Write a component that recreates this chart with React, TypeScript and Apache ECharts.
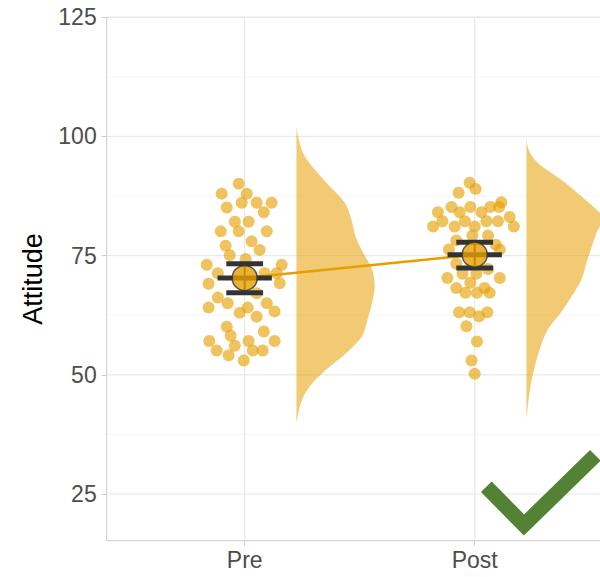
import React, { useEffect, useRef } from "react";
import * as echarts from "echarts";

// ---------- data ----------
const categories = ["Pre", "Post"];
const yTickValues = [25, 50, 75, 100, 125];
const yMinorValues = [37.5, 62.5, 87.5, 112.5];

const preScores = [90.1, 88.0, 88.0, 85.1, 86.1, 86.1, 86.1, 84.1, 82.1, 82.1, 80.1, 80.1, 80.1, 77.1, 78.0, 75.1, 76.2, 74.3, 73.1, 73.1, 71.3, 71.3, 71.3, 69.1, 69.2, 67.1, 66.2, 65.0, 65.0, 64.1, 64.1, 63.0, 63.3, 62.2, 60.1, 59.1, 58.2, 57.1, 57.1, 57.1, 56.1, 55.1, 55.1, 55.1, 54.1, 53.0];
const preJitter = [-0.026, -0.1, 0.009, -0.078, -0.013, 0.052, 0.117, 0.083, -0.043, 0.017, -0.104, -0.026, 0.096, -0.083, 0.03, -0.065, 0.065, 0.004, -0.165, 0.161, -0.117, 0.087, 0.139, -0.157, 0.152, 0.052, -0.117, -0.074, 0.096, -0.157, 0.013, -0.022, 0.13, 0.052, -0.078, 0.083, -0.061, -0.154, 0.017, 0.13, -0.043, -0.122, 0.035, 0.078, -0.07, -0.004];

const postScores = [90.3, 89.0, 88.2, 84.1, 85.2, 84.1, 85.2, 84.1, 85.2, 85.2, 86.2, 83.1, 81.1, 81.1, 82.2, 81.1, 82.2, 81.1, 82.2, 82.2, 79.2, 79.2, 78.2, 77.3, 76.3, 76.3, 73.3, 72.2, 70.3, 71.2, 71.2, 70.3, 69.3, 68.2, 67.2, 67.2, 68.2, 67.2, 63.1, 63.1, 62.3, 63.1, 60.2, 57.0, 53.0, 50.2];
const postJitter = [-0.022, 0.004, -0.07, -0.16, -0.101, -0.065, -0.019, 0.029, 0.068, 0.106, 0.116, 0.152, 0.17, -0.181, -0.14, -0.087, -0.043, 0.0, 0.051, 0.101, -0.01, 0.058, -0.08, 0.091, -0.112, 0.109, -0.08, 0.058, -0.119, -0.053, 0.007, 0.109, -0.019, -0.08, -0.04, 0.01, 0.043, 0.065, -0.068, -0.022, 0.019, 0.055, -0.036, 0.01, -0.014, 0.0];

const means = [70.3, 75.2];
const ciLow = [67.2, 72.4];
const ciHigh = [73.3, 77.8];

const preViolinY = [102.1, 100.0, 96.5, 93.0, 89.5, 86.1, 82.6, 79.0, 75.6, 72.1, 68.6, 65.1, 61.6, 58.1, 54.6, 51.1, 47.6, 44.1, 40.6, 40.0];
const preViolinW = [0, 0.007, 0.029, 0.08, 0.145, 0.21, 0.239, 0.257, 0.29, 0.329, 0.34, 0.329, 0.309, 0.285, 0.217, 0.13, 0.058, 0.019, 0.003, 0];
const postViolinY = [99.7, 97.2, 94.4, 90.9, 87.4, 84.0, 82.1, 80.5, 77.0, 73.5, 70.0, 66.5, 63.0, 59.5, 56.0, 52.5, 49.0, 45.5, 42.0, 40.5];
const postViolinW = [0, 0.01, 0.051, 0.152, 0.239, 0.319, 0.34, 0.311, 0.285, 0.261, 0.239, 0.197, 0.149, 0.093, 0.062, 0.04, 0.023, 0.011, 0.003, 0];

// ---------- layout / style ----------
const X_MIN = 0.4;
const X_MAX = 2.6;
const Y_MIN = 15.2;
const Y_MAX = 125;
const VIOLIN_OFFSET = 0.225;
const CAP_HALF = 0.08;
const MID_HALF = 0.118;
const FONT = "'Liberation Sans', Arial, Helvetica, sans-serif";
const ORANGE = "#E69F00";

const violinY = [preViolinY, postViolinY];
const violinW = [preViolinW, postViolinW];

type GridLine = { dir: "h" | "v"; v: number; major: boolean };
const gridLines: GridLine[] = [
  ...yMinorValues.map((v) => ({ dir: "h" as const, v, major: false })),
  ...yTickValues.map((v) => ({ dir: "h" as const, v, major: true })),
  ...categories.map((_, i) => ({ dir: "v" as const, v: i + 1, major: true })),
];

export default function App() {
  const ref = useRef<HTMLDivElement>(null);

  useEffect(() => {
    document.body.style.margin = "0";
    if (!ref.current) return;
    const chart = echarts.init(ref.current, null, { renderer: "svg" });

    const dots: number[][] = [];
    preScores.forEach((v, i) => dots.push([1 + preJitter[i], v]));
    postScores.forEach((v, i) => dots.push([2 + postJitter[i], v]));

    const option: any = {
      animation: false,
      backgroundColor: "#ffffff",
      grid: {
        left: 106.7,
        top: 17.3,
        width: (X_MAX - X_MIN) * 230,
        height: 523.4,
        show: true,
        borderColor: "#cccccc",
        borderWidth: 1,
        backgroundColor: "transparent",
        containLabel: false,
        outerBoundsMode: "none",
      },
      xAxis: {
        type: "value",
        min: X_MIN,
        max: X_MAX,
        splitLine: { show: false },
        axisLine: { show: false },
        axisTick: {
          show: true,
          customValues: [1, 2],
          length: 5,
          lineStyle: { color: "#cccccc", width: 1 },
        },
        axisLabel: {
          customValues: [1, 2],
          formatter: (v: number) => categories[Math.round(v) - 1] ?? "",
          fontSize: 23,
          color: "#4d4d4d",
          margin: 8,
          fontFamily: FONT,
        },
      },
      yAxis: {
        type: "value",
        min: Y_MIN,
        max: Y_MAX,
        name: "Attitude",
        nameLocation: "middle",
        nameGap: 60,
        nameTextStyle: { fontSize: 27, color: "#000000", fontFamily: FONT },
        splitLine: { show: false },
        axisLine: { show: false },
        axisTick: {
          show: true,
          customValues: yTickValues,
          length: 5,
          lineStyle: { color: "#cccccc", width: 1 },
        },
        axisLabel: {
          customValues: yTickValues,
          fontSize: 23,
          color: "#4d4d4d",
          margin: 10,
          fontFamily: FONT,
        },
      },
      series: [
        {
          type: "custom",
          name: "grid",
          silent: true,
          z: 0,
          data: gridLines.map((_, i) => i),
          renderItem: (params: any, api: any) => {
            const g = gridLines[params.dataIndex];
            const cs = params.coordSys;
            if (g.dir === "h") {
              const y = api.coord([X_MIN, g.v])[1];
              return {
                type: "line",
                shape: { x1: cs.x, y1: y, x2: cs.x + cs.width, y2: y },
                style: { stroke: g.major ? "#e9e9e9" : "#f3f3f3", lineWidth: g.major ? 1.2 : 0.8 },
              };
            }
            const x = api.coord([g.v, Y_MIN])[0];
            return {
              type: "line",
              shape: { x1: x, y1: cs.y, x2: x, y2: cs.y + cs.height },
              style: { stroke: "#e9e9e9", lineWidth: 1.2 },
            };
          },
        },
        {
          type: "custom",
          name: "violin",
          silent: true,
          z: 1,
          data: categories.map((_, i) => i),
          renderItem: (params: any, api: any) => {
            const g = params.dataIndex;
            const ys = violinY[g];
            const ws = violinW[g];
            const base = g + 1 + VIOLIN_OFFSET;
            const pts = ys.map((y, i) => api.coord([base + ws[i], y]));
            const n = pts.length;
            let d = `M${pts[0][0]},${pts[0][1]}`;
            for (let i = 0; i < n - 1; i++) {
              const p0 = pts[Math.max(i - 1, 0)];
              const p1 = pts[i];
              const p2 = pts[i + 1];
              const p3 = pts[Math.min(i + 2, n - 1)];
              const c1x = p1[0] + (p2[0] - p0[0]) / 6;
              const c1y = p1[1] + (p2[1] - p0[1]) / 6;
              const c2x = p2[0] - (p3[0] - p1[0]) / 6;
              const c2y = p2[1] - (p3[1] - p1[1]) / 6;
              d += ` C${c1x},${c1y} ${c2x},${c2y} ${p2[0]},${p2[1]}`;
            }
            d += " Z";
            return {
              type: "path",
              shape: { pathData: d },
              style: { fill: "rgba(230,159,0,0.55)", stroke: "none" },
            };
          },
        },
        {
          type: "scatter",
          name: "scores",
          z: 2,
          symbolSize: 12,
          data: dots,
          itemStyle: { color: "rgba(230,159,0,0.78)", borderWidth: 0 },
        },
        {
          type: "line",
          name: "meanLine",
          z: 3,
          symbol: "none",
          data: means.map((m, i) => [i + 1, m]),
          lineStyle: { color: ORANGE, width: 2.5 },
        },
        {
          type: "custom",
          name: "errorbars",
          silent: true,
          z: 4,
          data: categories.map((_, i) => i),
          renderItem: (params: any, api: any) => {
            const g = params.dataIndex;
            const x = g + 1;
            const c = api.coord([x, means[g]]);
            const hi = api.coord([x, ciHigh[g]]);
            const lo = api.coord([x, ciLow[g]]);
            const capW = api.size([CAP_HALF, 0])[0];
            const midW = api.size([MID_HALF, 0])[0];
            const th = 5;
            const fill = "#333333";
            return {
              type: "group",
              children: [
                { type: "rect", shape: { x: c[0] - 1, y: hi[1], width: 2, height: lo[1] - hi[1] }, style: { fill } },
                { type: "rect", shape: { x: c[0] - capW, y: hi[1] - th / 2, width: capW * 2, height: th }, style: { fill } },
                { type: "rect", shape: { x: c[0] - capW, y: lo[1] - th / 2, width: capW * 2, height: th }, style: { fill } },
                { type: "rect", shape: { x: c[0] - midW, y: c[1] - th / 2, width: midW * 2, height: th }, style: { fill } },
              ],
            };
          },
        },
        {
          type: "scatter",
          name: "means",
          z: 5,
          symbolSize: 25,
          data: means.map((m, i) => [i + 1, m]),
          itemStyle: { color: ORANGE, borderColor: "#333333", borderWidth: 1.5 },
        },
      ],
      graphic: [
        {
          type: "polyline",
          z: 100,
          silent: true,
          shape: {
            points: [
              [486.3, 486.7],
              [524, 525],
              [595.3, 455.3],
            ],
          },
          style: { stroke: "#548235", lineWidth: 15, fill: "none", lineJoin: "miter", lineCap: "butt" },
        },
      ],
    };

    chart.setOption(option);
    return () => chart.dispose();
  }, []);

  return <div ref={ref} style={{ width: 600, height: 577 }} />;
}
